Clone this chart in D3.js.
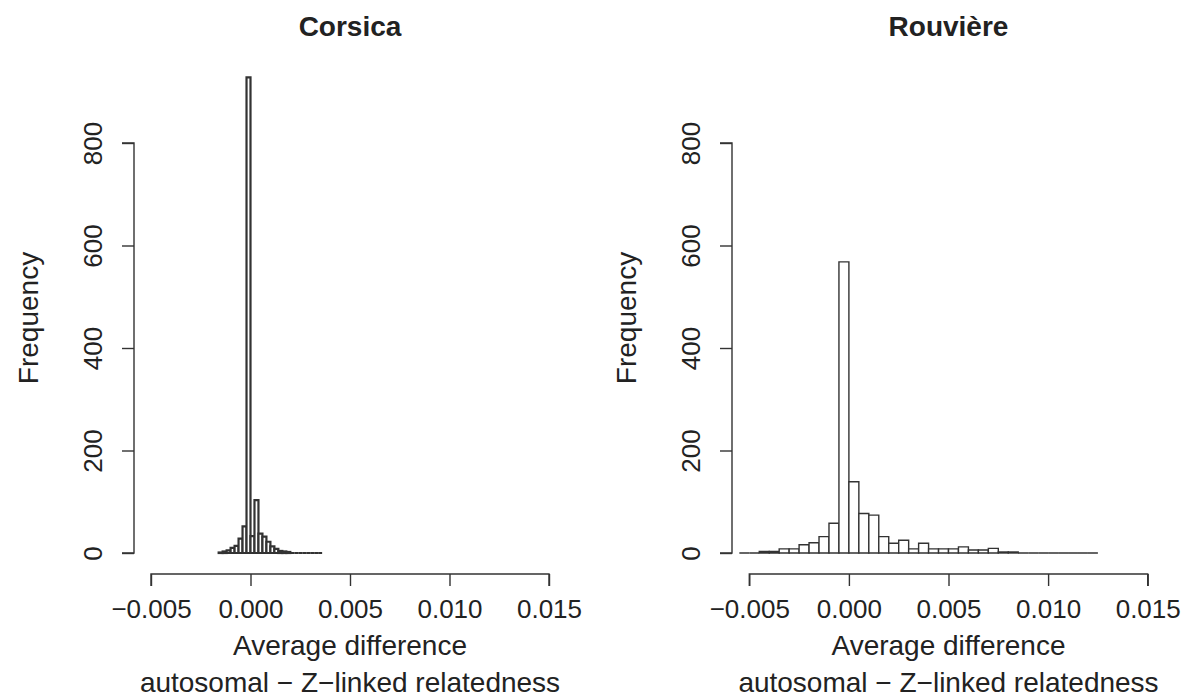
<!DOCTYPE html>
<html>
<head>
<meta charset="utf-8">
<script src="https://cdn.jsdelivr.net/npm/d3@7"></script>
<style>
  html, body { margin: 0; padding: 0; background: #fff; }
  svg text { font-family: "Liberation Sans", Arial, Helvetica, sans-serif; fill: #222; }
</style>
</head>
<body>
<svg id="chart" width="1190" height="700"></svg>
<script>
// ---- Data ----
const titles = ["Corsica", "Rouvière"];
const xTicks = [-0.005, 0.000, 0.005, 0.010, 0.015];
const xTickLabels = ["\u22120.005", "0.000", "0.005", "0.010", "0.015"];
const yTicks = [0, 200, 400, 600, 800];
const xLabelLine1 = "Average difference";
const xLabelLine2 = "autosomal \u2212 Z\u2212linked relatedness";
const yLabel = "Frequency";

// Corsica: bins of width 0.0002 starting at -0.0016
const corsicaStart = -0.0016;
const corsicaWidth = 0.0002;
const corsicaCounts = [1, 3, 5, 10, 14, 28, 52, 928, 33, 103, 38, 32, 22, 13, 8, 4, 3, 2, 0, 0, 0, 0, 0, 0, 0, 0];

// Rouvière: bins of width 0.0005 starting at -0.0055
const rouviereStart = -0.0055;
const rouviereWidth = 0.0005;
const rouviereCounts = [0, 0, 3, 3, 8, 8, 16, 20, 32, 58, 568, 139, 77, 74, 32, 19, 25, 8, 19, 8, 8, 8, 12, 6, 6, 9, 2, 2, 0, 0, 0, 0, 0, 0, 0, 0];

// ---- Drawing ----
const svg = d3.select("#chart");
const ink = "#333";
const tickFont = 26, labelFont = 28, titleFont = 28;

const panels = [
  { title: titles[0], start: corsicaStart, width: corsicaWidth, counts: corsicaCounts, x0: 151, x1: 549, yAxisX: 134, strokeW: 2.2 },
  { title: titles[1], start: rouviereStart, width: rouviereWidth, counts: rouviereCounts, x0: 749.3, x1: 1147.7, yAxisX: 732, strokeW: 1.4 }
];

const yScale = d3.scaleLinear().domain([0, 800]).range([553, 143]);

panels.forEach(p => {
  const g = svg.append("g");
  const x = d3.scaleLinear().domain([-0.005, 0.015]).range([p.x0, p.x1]);

  // Bars
  const bins = p.counts.map((c, i) => ({ a: p.start + i * p.width, b: p.start + (i + 1) * p.width, c }));
  g.selectAll("path.bar").data(bins).enter().append("path")
    .attr("class", "bar")
    .attr("d", d => {
      const pa = d3.path();
      const xa = x(d.a), xb = x(d.b), y0 = yScale(0), y1 = yScale(d.c);
      pa.moveTo(xa, y0); pa.lineTo(xa, y1); pa.lineTo(xb, y1); pa.lineTo(xb, y0); pa.closePath();
      return pa.toString();
    })
    .attr("fill", "#fff")
    .attr("stroke", ink)
    .attr("stroke-width", p.strokeW);

  // X axis
  const xAxis = d3.axisBottom(x).tickValues(xTicks).tickFormat((d, i) => xTickLabels[i]).tickSize(12).tickPadding(14);
  const gx = g.append("g").attr("transform", "translate(0,574)").call(xAxis);
  gx.select(".domain").attr("stroke", ink).attr("stroke-width", 1.4).attr("d", `M${p.x0},12V0H${p.x1}V12`);
  gx.selectAll(".tick line").attr("stroke", ink).attr("stroke-width", 1.4);
  gx.selectAll(".tick text").attr("font-size", tickFont).attr("fill", "#222")
    .style("font-family", "'Liberation Sans', Arial, sans-serif");

  // Y axis
  const yAxis = d3.axisLeft(yScale).tickValues(yTicks).tickSize(12).tickPadding(0);
  const gy = g.append("g").attr("transform", `translate(${p.yAxisX},0)`).call(yAxis);
  gy.select(".domain").attr("stroke", ink).attr("stroke-width", 1.4).attr("d", `M-12,${yScale(800)}H0V${yScale(0)}H-12`);
  gy.selectAll(".tick line").attr("stroke", ink).attr("stroke-width", 1.4);
  gy.selectAll(".tick text")
    .attr("font-size", tickFont).attr("fill", "#222")
    .style("font-family", "'Liberation Sans', Arial, sans-serif")
    .attr("x", null).attr("dy", null)
    .attr("text-anchor", "middle")
    .attr("transform", "translate(-41,0) rotate(-90)")
    .attr("dominant-baseline", "central");

  const cx = (p.x0 + p.x1) / 2;
  // Title
  g.append("text").attr("x", cx).attr("y", 36).attr("text-anchor", "middle")
    .attr("font-size", titleFont).attr("font-weight", "bold").text(p.title);

  // X label
  g.append("text").attr("x", cx).attr("y", 655).attr("text-anchor", "middle")
    .attr("font-size", labelFont).text(xLabelLine1);
  g.append("text").attr("x", cx).attr("y", 692).attr("text-anchor", "middle")
    .attr("font-size", labelFont).text(xLabelLine2);

  // Y label
  g.append("text")
    .attr("transform", `translate(${p.yAxisX - 106},318) rotate(-90)`)
    .attr("text-anchor", "middle").attr("dominant-baseline", "central")
    .attr("font-size", labelFont).text(yLabel);
});
</script>
</body>
</html>
